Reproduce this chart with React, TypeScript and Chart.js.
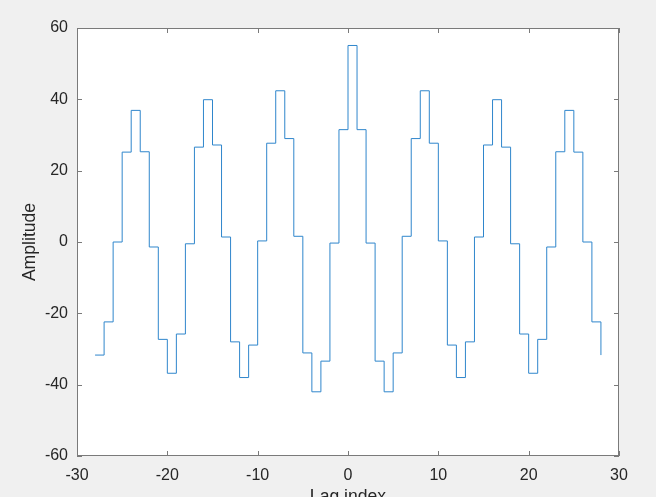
import React, { useEffect, useRef } from "react";
import { Chart, registerables } from "chart.js";

Chart.register(...registerables);

const lags: number[] = [
  -28, -27, -26, -25, -24, -23, -22, -21, -20, -19, -18, -17, -16, -15, -14,
  -13, -12, -11, -10, -9, -8, -7, -6, -5, -4, -3, -2, -1, 0, 1, 2, 3, 4, 5, 6,
  7, 8, 9, 10, 11, 12, 13, 14, 15, 16, 17, 18, 19, 20, 21, 22, 23, 24, 25, 26,
  27, 28,
];

const amplitude: number[] = [
  -31.7, -22.4, 0.0, 25.2, 36.9, 25.3, -1.4, -27.3, -36.8, -25.8, -0.5, 26.6,
  39.9, 27.2, 1.4, -28.0, -38.0, -28.9, 0.3, 27.7, 42.4, 29.0, 1.6, -31.1,
  -42.0, -33.4, -0.3, 31.5, 55.1, 31.5, -0.3, -33.4, -42.0, -31.1, 1.6, 29.0,
  42.4, 27.7, 0.3, -28.9, -38.0, -28.0, 1.4, 27.2, 39.9, 26.6, -0.5, -25.8,
  -36.8, -27.3, -1.4, 25.3, 36.9, 25.2, 0.0, -22.4, -31.7,
];

const xTitle = "Lag index";
const yTitle = "Amplitude";

const FONT = "'Liberation Sans', Arial, Helvetica, sans-serif";

const matlabBox = {
  id: "matlabBox",
  beforeDraw(chart: any) {
    const { ctx, chartArea: a, width, height } = chart;
    ctx.save();
    ctx.fillStyle = "#f0f0f0";
    ctx.fillRect(0, 0, width, height);
    ctx.fillStyle = "#ffffff";
    ctx.fillRect(a.left, a.top, a.right - a.left, a.bottom - a.top);
    ctx.restore();
  },
  afterDraw(chart: any) {
    const { ctx, chartArea: a, scales } = chart;
    ctx.save();
    ctx.strokeStyle = "#7a7a7a";
    ctx.lineWidth = 1;
    ctx.strokeRect(a.left + 0.5, a.top + 0.5, a.right - a.left - 1, a.bottom - a.top - 1);
    const L = 5;
    ctx.beginPath();
    scales.x.ticks.forEach((t: any) => {
      const px = Math.round(scales.x.getPixelForValue(t.value)) + 0.5;
      ctx.moveTo(px, a.bottom);
      ctx.lineTo(px, a.bottom - L);
      ctx.moveTo(px, a.top);
      ctx.lineTo(px, a.top + L);
    });
    scales.y.ticks.forEach((t: any) => {
      const py = Math.round(scales.y.getPixelForValue(t.value)) + 0.5;
      ctx.moveTo(a.left, py);
      ctx.lineTo(a.left + L, py);
      ctx.moveTo(a.right, py);
      ctx.lineTo(a.right - L, py);
    });
    ctx.stroke();
    ctx.restore();
  },
};

export default function App() {
  const canvasRef = useRef<HTMLCanvasElement>(null);

  useEffect(() => {
    if (!canvasRef.current) return;
    const chart = new Chart(canvasRef.current, {
      type: "line",
      data: {
        datasets: [
          {
            data: lags.map((x, i) => ({ x, y: amplitude[i] })),
            borderColor: "#2f86cc",
            borderWidth: 1,
            stepped: true,
            pointRadius: 0,
            fill: false,
          },
        ],
      },
      options: {
        responsive: false,
        animation: false,
        layout: { padding: { top: 28, right: 37, left: 0, bottom: 0 } },
        plugins: { legend: { display: false }, tooltip: { enabled: false } },
        scales: {
          x: {
            type: "linear",
            min: -30,
            max: 30,
            afterFit: (s: any) => {
              s.height = 64;
            },
            ticks: {
              stepSize: 10,
              padding: 10,
              color: "#262626",
              font: { family: FONT, size: 16 },
              maxRotation: 0,
            },
            grid: { display: false, drawTicks: false },
            border: { display: false },
            title: {
              display: true,
              text: xTitle,
              color: "#262626",
              font: { family: FONT, size: 17.6 },
              padding: { top: 0, bottom: 12 },
            },
          },
          y: {
            type: "linear",
            min: -60,
            max: 60,
            afterFit: (s: any) => {
              s.width = 77;
            },
            ticks: {
              stepSize: 20,
              padding: 9,
              color: "#262626",
              font: { family: FONT, size: 16 },
            },
            grid: { display: false, drawTicks: false },
            border: { display: false },
            title: {
              display: true,
              text: yTitle,
              color: "#262626",
              font: { family: FONT, size: 17.6 },
              padding: { top: 20, bottom: 0 },
            },
          },
        },
      },
      plugins: [matlabBox],
    });
    return () => chart.destroy();
  }, []);

  return (
    <div
      style={{
        position: "fixed",
        left: 0,
        top: 0,
        width: 656,
        height: 497,
        overflow: "hidden",
        background: "#f0f0f0",
      }}
    >
      <canvas ref={canvasRef} width={656} height={520} style={{ display: "block" }} />
    </div>
  );
}
